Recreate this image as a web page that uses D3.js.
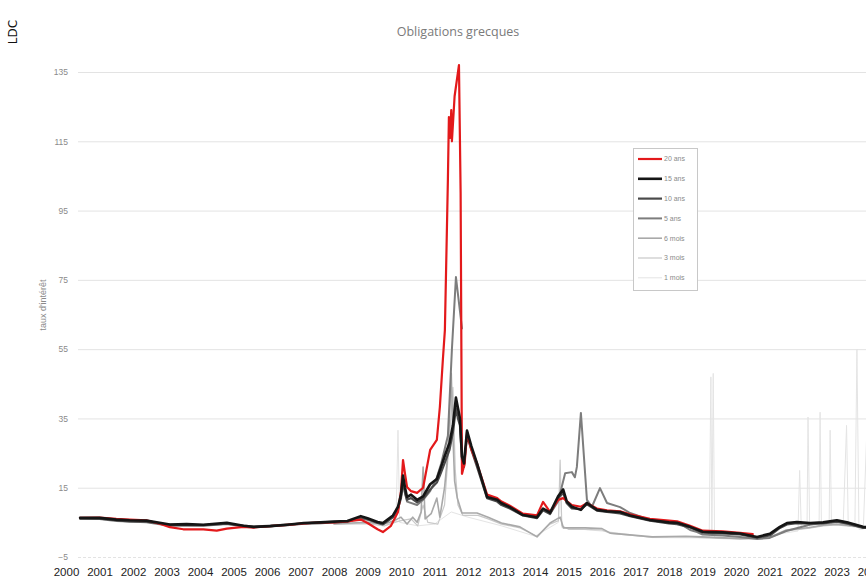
<!DOCTYPE html>
<html>
<head>
<meta charset="utf-8">
<script src="https://cdn.jsdelivr.net/npm/d3@7/dist/d3.min.js"></script>
<style>
  html, body { margin: 0; padding: 0; background: #fff; }
  svg { display: block; }
</style>
</head>
<body>
<svg id="chart" width="866" height="581"></svg>
<script>
// ---------- DATA ----------
const title = "Obligations grecques";
const yTitle = "taux d'intérêt";
const years = d3.range(2000, 2025);
const yTicks = [-5, 15, 35, 55, 75, 95, 115, 135];
const seriesNames = ["20 ans", "15 ans", "10 ans", "5 ans", "6 mois", "3 mois", "1 mois"];

// [decimal year, value]
const s20ans = [
  [2000.42,6.3],[2001.0,6.4],[2001.5,6.0],[2001.9,5.8],[2002.4,5.6],[2002.8,4.6],[2003.1,3.6],[2003.5,3.0],
  [2004.1,3.0],[2004.5,2.6],[2004.8,3.2],[2005.3,3.7],[2005.6,3.5],[2006.1,3.9],[2006.6,4.3],[2007.1,4.7],
  [2007.6,5.0],[2008.0,5.0],[2008.4,5.3],[2008.8,5.8],[2009.0,4.8],[2009.3,3.0],[2009.46,2.2],[2009.7,4.0],
  [2009.91,8],[2010.0,14],[2010.06,23],[2010.12,19],[2010.18,15.2],[2010.3,14],[2010.48,13.5],[2010.66,15],
  [2010.87,25.9],[2011.07,28.8],[2011.16,38.3],[2011.25,52],[2011.31,60.5],[2011.4,104],[2011.43,122],
  [2011.47,116],[2011.5,124],[2011.52,115],[2011.6,128],[2011.73,137],[2011.78,100],[2011.82,19],[2011.9,22],
  [2011.97,31],[2012.1,26],[2012.27,22],[2012.57,13],[2012.87,12],[2013.0,11],[2013.25,9.8],[2013.64,7.5],
  [2014.06,7],[2014.24,10.9],[2014.45,8],[2014.69,11.5],[2014.84,12],[2015.1,10],[2015.37,9.5],[2015.55,10.5],
  [2015.85,9],[2016.15,8.5],[2016.54,8.2],[2016.84,7.3],[2017.43,6.0],[2018.0,5.5],[2018.24,5.3],[2018.63,4.0],
  [2019.01,2.6],[2019.6,2.4],[2020.12,2.0],[2020.5,1.6]
];
const s15ans = [
  [2000.42,6.3],[2001.0,6.3],[2001.5,5.8],[2001.9,5.6],[2002.4,5.5],[2003.1,4.4],[2003.6,4.5],[2004.1,4.3],
  [2004.8,4.9],[2005.3,4.0],[2005.6,3.7],[2006.1,3.9],[2006.6,4.3],[2007.1,4.8],[2007.6,5.0],[2008.0,5.2],
  [2008.4,5.4],[2008.8,6.8],[2009.0,6.2],[2009.3,5.1],[2009.46,4.8],[2009.76,7.0],[2009.91,9.5],[2010.0,13],
  [2010.06,18.5],[2010.12,15],[2010.18,12.3],[2010.3,13.0],[2010.48,11.5],[2010.66,12.5],[2010.87,16],
  [2011.07,17.5],[2011.16,20],[2011.3,24],[2011.45,28],[2011.55,33],[2011.64,41],[2011.7,38],[2011.76,35],
  [2011.82,24],[2011.88,22],[2011.97,31.5],[2012.1,27],[2012.27,22],[2012.57,12.3],[2012.87,11.5],[2013.0,10.5],
  [2013.25,9.4],[2013.64,7.1],[2014.06,6.5],[2014.24,9],[2014.45,7.8],[2014.69,12.5],[2014.84,14.5],[2014.95,11],
  [2015.1,9.5],[2015.37,8.6],[2015.55,10.6],[2015.85,8.6],[2016.15,8.2],[2016.54,8.0],[2016.84,7.0],[2017.43,5.7],
  [2018.0,5.0],[2018.24,4.9],[2018.63,3.7],[2019.01,2.3],[2019.6,2.1],[2020.12,1.8],[2020.63,0.8],[2021.01,1.7],
  [2021.31,3.7],[2021.52,4.8],[2021.82,5.1],[2022.21,4.8],[2022.6,5.0],[2023.01,5.6],[2023.31,5.0],[2023.79,3.7],
  [2024.1,3.5]
];
const s10ans = [
  [2000.42,6.2],[2001.0,6.1],[2001.5,5.6],[2001.9,5.3],[2002.4,5.2],[2003.1,4.3],[2003.6,4.3],[2004.1,4.2],
  [2004.8,4.6],[2005.3,3.8],[2005.6,3.6],[2006.1,3.9],[2006.6,4.2],[2007.1,4.6],[2007.6,4.8],[2008.0,5.0],
  [2008.4,5.2],[2008.8,6.4],[2009.0,6.0],[2009.3,4.8],[2009.46,4.4],[2009.76,6.5],[2009.91,9.0],[2010.0,12],
  [2010.06,17],[2010.12,13.5],[2010.18,11.5],[2010.3,12.0],[2010.48,10.8],[2010.66,11.8],[2010.87,14.5],
  [2011.07,16.5],[2011.16,18.5],[2011.3,22],[2011.45,26],[2011.55,31],[2011.64,38],[2011.7,35],[2011.76,33],
  [2011.82,23],[2011.88,21],[2011.97,30],[2012.1,26],[2012.27,21],[2012.57,12],[2012.87,11],[2013.0,10],
  [2013.25,9.0],[2013.64,7.0],[2014.06,6.2],[2014.24,8.5],[2014.45,7.4],[2014.69,12],[2014.84,13.5],[2014.95,10.5],
  [2015.1,9.0],[2015.37,8.8],[2015.55,10.2],[2015.85,8.4],[2016.15,8.0],[2016.54,7.6],[2016.84,6.8],[2017.43,5.5],
  [2018.0,4.7],[2018.24,4.5],[2018.63,3.5],[2019.01,2.0],[2019.6,1.8],[2020.12,1.5],[2020.63,0.6],[2021.01,1.2],
  [2021.31,3.4],[2021.52,4.4],[2021.82,4.8],[2022.21,4.6],[2022.6,4.7],[2023.01,5.2],[2023.31,4.7],[2023.79,3.4],
  [2024.1,3.3]
];
const s5ans = [
  [2000.42,6.0],[2001.0,6.0],[2001.5,5.4],[2002.4,5.0],[2003.1,4.0],[2004.1,4.0],[2004.8,4.5],[2005.6,3.8],
  [2006.6,4.4],[2007.6,5.0],[2008.4,5.3],[2008.8,6.2],[2009.3,5.0],[2009.46,4.5],[2009.76,6.5],[2009.91,8.5],
  [2010.06,16],[2010.18,11],[2010.48,10],[2010.66,11.5],[2010.87,14],[2011.07,18],[2011.2,22],[2011.4,30],
  [2011.52,55],[2011.64,75.8],[2011.76,66],[2011.82,61],[2012.0,null],
  [2014.45,7.5],[2014.69,11],[2014.9,19.2],[2015.1,19.5],[2015.19,18],[2015.25,21],[2015.37,36.6],[2015.55,11.5],
  [2015.7,9.5],[2015.94,14.9],[2016.15,10.6],[2016.54,9.4],[2016.84,7.7],[2017.43,5.7],[2018.24,5.1],[2018.63,2.8],
  [2018.84,2.2],[2019.0,1.5],[2019.6,1.2],[2020.12,0.8],[2020.63,0.2],[2021.0,0.5],[2021.5,2.5],[2022.2,4.3],
  [2022.6,4.8],[2023.0,5.3],[2023.8,3.5],[2024.1,3.3]
];
const s6mois = [
  [2008.0,4.6],[2009.0,5.0],[2009.5,4.5],[2009.8,5.5],[2010.0,6.5],[2010.18,4.5],[2010.35,6.5],[2010.48,5.0],
  [2010.6,8.0],[2010.66,21],[2010.72,6.0],[2010.9,7.5],[2011.07,12],[2011.16,6.5],[2011.3,15],[2011.4,25],
  [2011.5,48],[2011.55,30],[2011.6,17],[2011.68,12],[2011.82,7.7],[2012.27,7.7],[2012.6,6.5],[2013.0,4.8],
  [2013.55,3.7],[2014.06,0.8],[2014.45,4.8],[2014.75,6.5],[2014.85,3.4],[2015.5,3.4],[2016.0,3.2],[2016.25,1.9],
  [2017.5,0.8],[2018.5,1.0],[2019.0,0.8],[2019.5,0.6],[2020.12,0.3],[2020.63,0.5],[2021.0,0.6],[2021.5,2.8],
  [2022.2,3.5],[2022.6,4.2],[2023.0,4.5],[2023.8,3.7],[2024.1,3.5]
];
const s3mois = [
  [2008.0,4.4],[2009.0,4.6],[2009.5,4.0],[2009.8,5.0],[2010.0,5.5],[2010.3,6.0],[2010.5,4.0],[2010.66,10],
  [2010.8,5.0],[2011.1,4.5],[2011.3,10],[2011.45,30],[2011.55,44],[2011.62,20],[2011.7,10],[2011.85,7.0],
  [2012.3,7.0],[2012.6,6.0],[2013.0,4.5],[2013.55,3.4],[2014.06,1.0],[2014.45,4.5],[2014.7,5.5],[2014.75,23],
  [2014.8,4.0],[2015.0,3.0],[2015.5,3.0],[2016.0,2.8],[2016.25,1.8],[2017.5,0.7],[2018.5,0.9],[2019.0,0.6],
  [2019.5,0.4],[2020.12,0.2],[2020.63,0.3],[2021.0,0.4],[2021.5,2.5],[2022.2,3.3],[2022.6,4.0],[2023.0,4.3],
  [2023.8,3.5],[2024.1,3.3]
];
const s1mois = [
  [2009.5,4.0],[2009.85,5.0],[2009.91,31.6],[2009.96,5.0],[2010.5,4.0],[2011.0,4.5],[2011.5,8],[2012.0,6.5],
  [2013.0,4.0],[2014.0,1.0],[2014.7,5.0],[2014.75,20],[2014.8,3.5],[2016.0,2.5],[2017.5,0.6],[2019.2,0.5],
  [2019.25,47],[2019.28,1.0],[2019.32,48],[2019.36,0.5],[2020.5,0.2],[2021.5,2.0],[2021.85,2.5],[2021.9,20],
  [2021.95,3.0],[2022.12,3.5],[2022.15,35.4],[2022.2,3.5],[2022.48,4.0],[2022.51,36.8],[2022.55,4.0],
  [2022.78,4.5],[2022.81,31.6],[2022.85,4.5],[2023.2,4.5],[2023.3,33],[2023.35,4.5],[2023.55,4.0],[2023.61,55],
  [2023.67,3.0],[2023.8,3.0],[2023.9,30],[2024.0,3.0]
];

const seriesData = [s20ans, s15ans, s10ans, s5ans, s6mois, s3mois, s1mois];
const seriesColors = ["#e3191b", "#151515", "#4a4a4a", "#7d7d7d", "#a9a9a9", "#c9c9c9", "#e4e4e4"];
const seriesWidths = [2.2, 2.6, 2.2, 2.0, 1.6, 1.2, 1.0];
const drawOrder = [6, 5, 4, 3, 2, 0, 1];

// ---------- CHART ----------
const svg = d3.select("#chart");
const W = 866, H = 581;
const x = d3.scaleLinear().domain([2000, 2024]).range([66, 870]);
const y = d3.scaleLinear().domain([-5, 135]).range([557, 72]);
const gridLeft = 78;

svg.append("rect").attr("width", W).attr("height", H).attr("fill", "#fff");

// grid + y labels
const yAxis = d3.axisLeft(y).tickValues(yTicks).tickSize(-(W - gridLeft)).tickPadding(10);
const gy = svg.append("g").attr("transform", `translate(${gridLeft},0)`).call(yAxis);
gy.select(".domain").remove();
gy.selectAll(".tick line").attr("stroke", "#e3e3e3").attr("stroke-width", 1)
  .attr("stroke-dasharray", d => d === -5 ? "3,2" : null);
gy.selectAll(".tick text").attr("fill", "#8a8a8a").style("font-family", "Liberation Sans, Arial, sans-serif")
  .style("font-size", "8.5px");

// x labels
const xAxis = d3.axisBottom(x).tickValues(years).tickFormat(d3.format("d")).tickSize(0).tickPadding(0);
const gx = svg.append("g").attr("transform", `translate(0,568)`).call(xAxis);
gx.select(".domain").remove();
gx.selectAll(".tick text").attr("fill", "#222").style("font-family", "Liberation Sans, Arial, sans-serif")
  .style("font-size", "11.5px").attr("dy", "0.71em");

// lines
const line = d3.line().defined(d => d[1] !== null).x(d => x(d[0])).y(d => y(d[1]));
const gl = svg.append("g");
drawOrder.forEach(i => {
  gl.append("path").datum(seriesData[i])
    .attr("fill", "none").attr("stroke", seriesColors[i]).attr("stroke-width", seriesWidths[i])
    .attr("stroke-linejoin", "round").attr("stroke-linecap", "round")
    .attr("d", line);
});

// title
svg.append("text").attr("x", 458).attr("y", 36).attr("text-anchor", "middle")
  .attr("fill", "#7a7a7a").style("font-family", "Open Sans, sans-serif").style("font-size", "12.5px")
  .text(title);

// LDC
svg.append("text").attr("transform", "translate(17,32) rotate(-90)").attr("text-anchor", "middle")
  .attr("fill", "#111").style("font-family", "DejaVu Sans, sans-serif").style("font-size", "12px")
  .text("LDC");

// y title
svg.append("text").attr("transform", "translate(46,305) rotate(-90)").attr("text-anchor", "middle")
  .attr("fill", "#8a8a8a").style("font-family", "Liberation Sans, Arial, sans-serif").style("font-size", "9px")
  .text(yTitle);

// legend
const lg = svg.append("g");
lg.append("rect").attr("x", 633.5).attr("y", 148.5).attr("width", 64).attr("height", 142)
  .attr("fill", "#fff").attr("stroke", "#c8c8c8");
seriesNames.forEach((n, i) => {
  const yy = 159 + i * 19.8;
  lg.append("line").attr("x1", 638).attr("x2", 662).attr("y1", yy).attr("y2", yy)
    .attr("stroke", seriesColors[i]).attr("stroke-width", seriesWidths[i]);
  lg.append("text").attr("x", 664).attr("y", yy).attr("dy", "0.35em")
    .attr("fill", "#8a8a8a").style("font-family", "Liberation Sans, Arial, sans-serif").style("font-size", "7px")
    .text(n);
});
</script>
</body>
</html>
